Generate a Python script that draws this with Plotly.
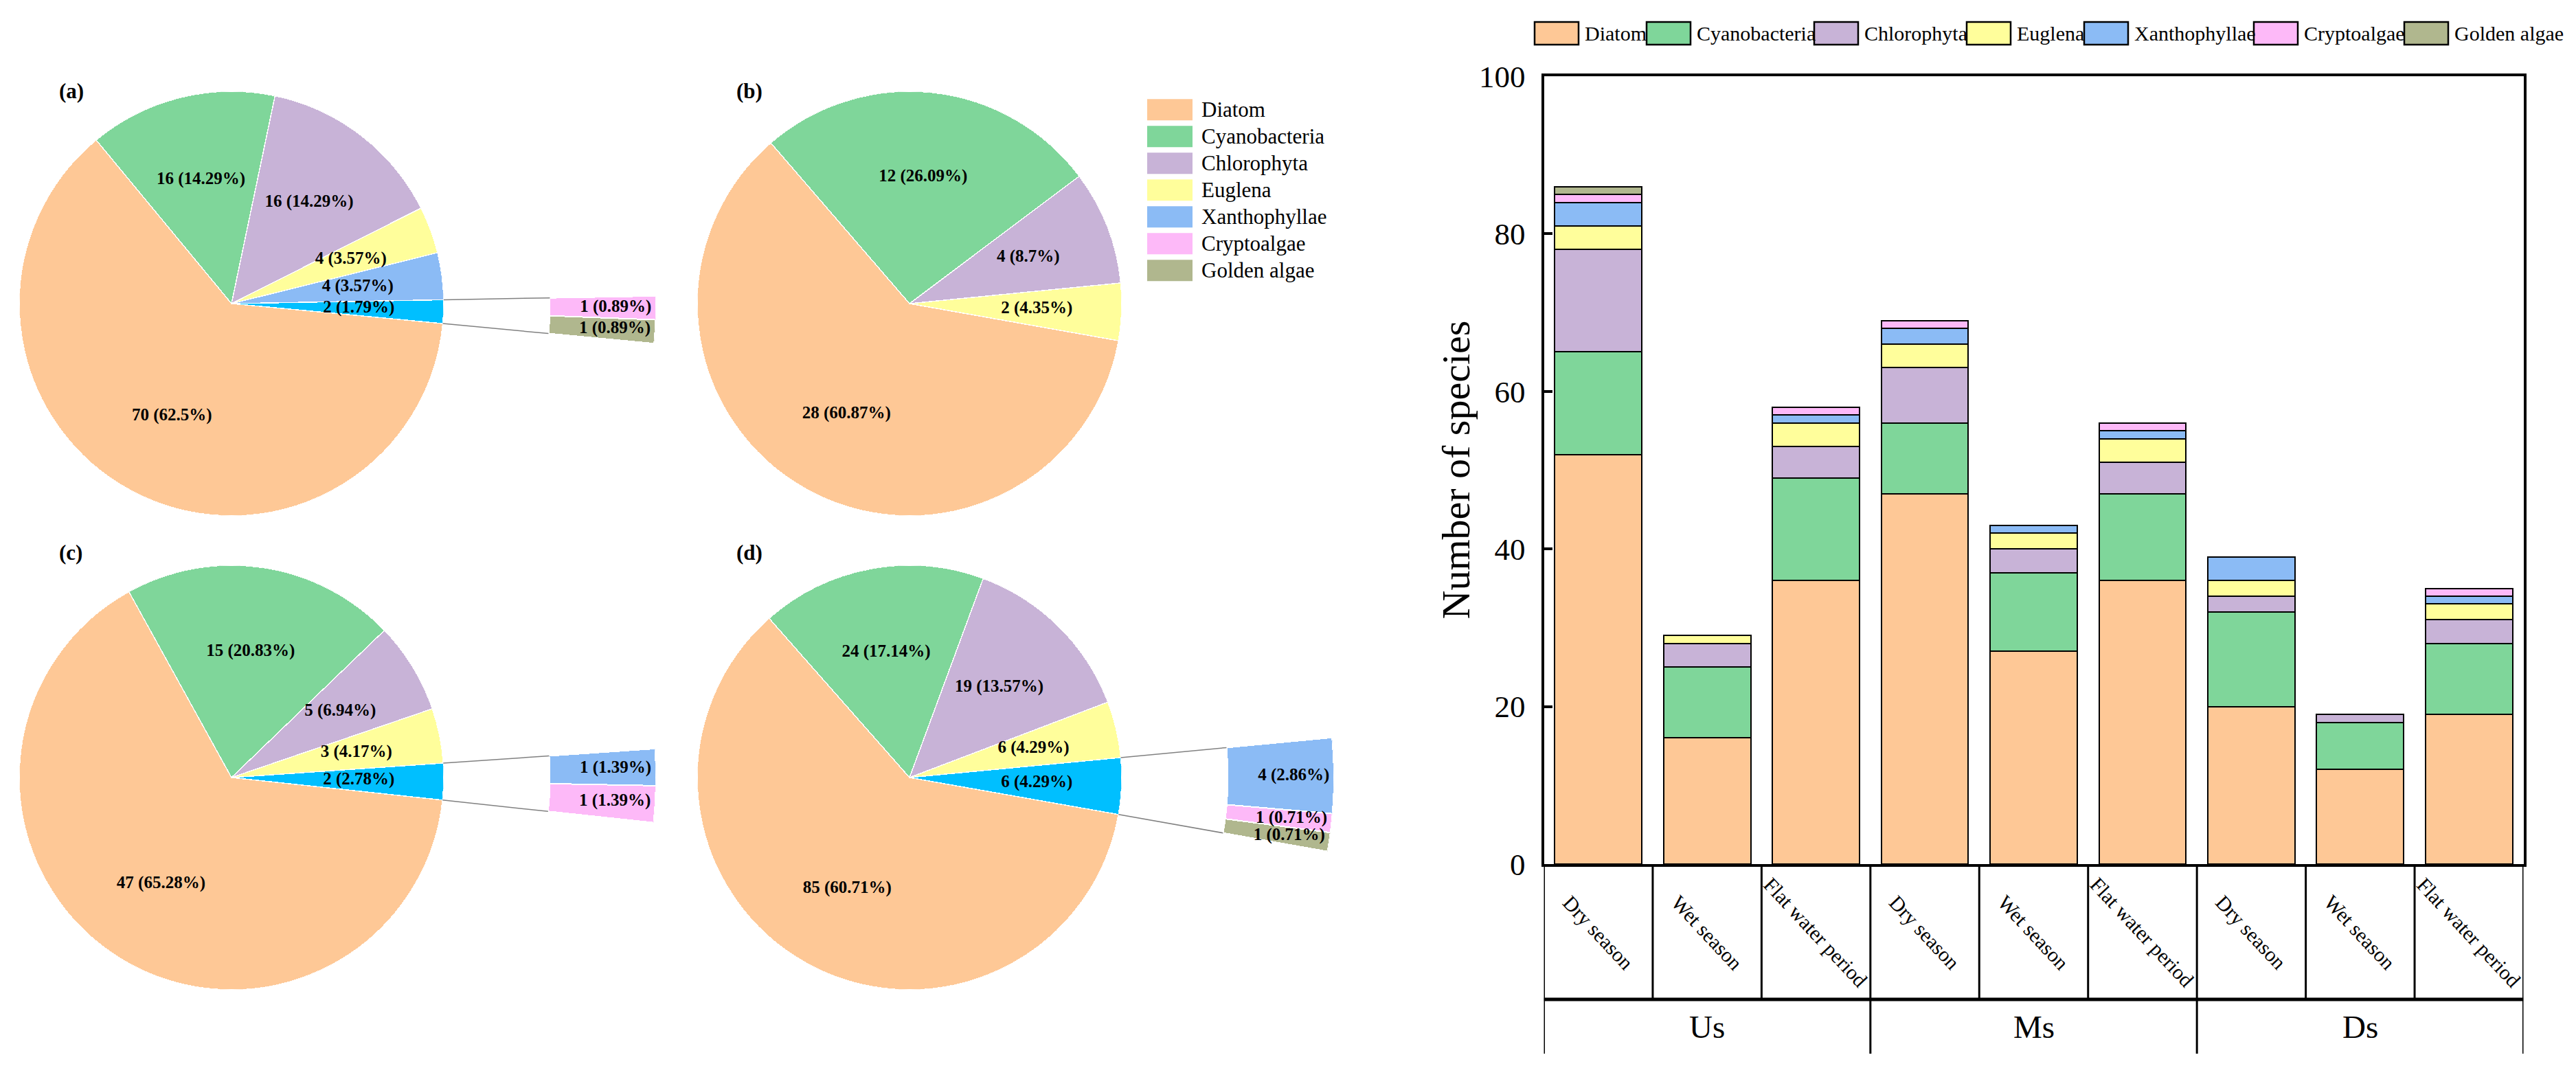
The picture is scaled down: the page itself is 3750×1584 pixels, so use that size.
import numpy as np
import plotly.graph_objects as go

# ---------------- data ----------------
categories = ["Diatom", "Cyanobacteria", "Chlorophyta", "Euglena",
              "Xanthophyllae", "Cryptoalgae", "Golden algae"]

pie_a = [70, 16, 16, 4, 4, 1, 1]
pie_b = [28, 12, 4, 2, 0, 0, 0]
pie_c = [47, 15, 5, 3, 1, 1, 0]
pie_d = [85, 24, 19, 6, 4, 1, 1]
pie_names = ["(a)", "(b)", "(c)", "(d)"]

sites = ["Us", "Ms", "Ds"]
seasons = ["Dry season", "Wet season", "Flat water period"]

diatom        = [52, 16, 36, 47, 27, 36, 20, 12, 19]
cyanobacteria = [13,  9, 13,  9, 10, 11, 12,  6,  9]
chlorophyta   = [13,  3,  4,  7,  3,  4,  2,  1,  3]
euglena       = [3,   1,  3,  3,  2,  3,  2,  0,  2]
xanthophyllae = [3,   0,  1,  2,  1,  1,  3,  0,  1]
cryptoalgae   = [1,   0,  1,  1,  0,  1,  0,  0,  1]
golden_algae  = [1,   0,  0,  0,  0,  0,  0,  0,  0]

y_ticks = [0, 20, 40, 60, 80, 100]
y_title = "Number of species"
other_threshold_pct = 3.0

# ---------------- styles / layout ----------------
colors = ["#FEC896", "#7FD69A", "#C8B3D7", "#FFFE9B", "#8BBBF5", "#FDB9F8", "#B0B78E"]
other_color = "#00BFFF"
W, H = 3750, 1584
FONT = "Liberation Serif"
R = 309
pie_layout = [
    dict(cx=337, cy=442, start=129.6, lx=84, ly=113),
    dict(cx=1324, cy=442, start=130.8, lx=1070, ly=113),
    dict(cx=337, cy=1132, start=118.9, lx=84, ly=804),
    dict(cx=1324, cy=1132, start=131.4, lx=1070, ly=804),
]


def px(x):
    return x / W


def py(y):
    return 1 - y / H


def pct_text(v, total):
    return f"{v} ({round(100 * v / total, 2):g}%)"


fig = go.Figure()
polars = {}
annotations = []
shapes = []
pcount = 0

pie_data = [pie_a, pie_b, pie_c, pie_d]
for vals, name, pl in zip(pie_data, pie_names, pie_layout):
    total = sum(vals)
    main_val, main_col, sub = [], [], []
    for i, (cat, v, col) in enumerate(zip(categories, vals, colors)):
        if v == 0:
            continue
        if i > 0 and 100 * v / total < other_threshold_pct:
            sub.append((cat, v, col))
        else:
            main_val.append(v)
            main_col.append(col)
    if sub:
        main_val.append(sum(s[1] for s in sub))
        main_col.append(other_color)
    widths = np.array([360.0 * v / total for v in main_val])
    cum = np.concatenate([[0.0], np.cumsum(widths)[:-1]])
    mids = cum + widths / 2
    rot = pl["start"] + 360.0 * vals[0] / total
    rot = ((rot + 180) % 360) - 180
    cx, cy = pl["cx"], pl["cy"]
    angular = dict(rotation=rot, direction="clockwise", visible=False,
                   thetaunit="degrees", showgrid=False)

    pcount += 1
    pname = "polar" if pcount == 1 else f"polar{pcount}"
    fig.add_trace(go.Barpolar(
        r=[1] * len(main_val), base=0, theta=mids, width=widths,
        marker=dict(color=main_col, line=dict(color="white", width=1.5)),
        subplot=pname, showlegend=False, hoverinfo="skip"))
    fig.add_trace(go.Scatterpolar(
        r=[0.6] * len(main_val), theta=mids, mode="text",
        text=[pct_text(v, total) for v in main_val],
        textfont=dict(family=FONT, size=25, color="black", weight="bold"),
        subplot=pname, showlegend=False, hoverinfo="skip", cliponaxis=False))
    polars[pname] = dict(
        domain=dict(x=[px(cx - R), px(cx + R)], y=[py(cy + R), py(cy - R)]),
        radialaxis=dict(range=[0, 1], visible=False, showgrid=False),
        angularaxis=angular, bgcolor="rgba(0,0,0,0)")

    if sub:
        pcount += 1
        pname2 = f"polar{pcount}"
        o_start, o_w = cum[-1], widths[-1]
        sw = np.array([360.0 * s[1] / total for s in sub])
        scum = o_start + np.concatenate([[0.0], np.cumsum(sw)[:-1]])
        smid = scum + sw / 2
        fig.add_trace(go.Scatterpolar(
            r=[1, 1.5, None, 1, 1.5],
            theta=[o_start, o_start, None, o_start + o_w, o_start + o_w],
            mode="lines", line=dict(color="#808080", width=1.5),
            subplot=pname2, showlegend=False, hoverinfo="skip"))
        fig.add_trace(go.Barpolar(
            r=[0.5] * len(sub), base=1.5, theta=smid, width=sw,
            marker=dict(color=[s[2] for s in sub], line=dict(color="white", width=2)),
            subplot=pname2, showlegend=False, hoverinfo="skip"))
        fig.add_trace(go.Scatterpolar(
            r=[1.81] * len(sub), theta=smid, mode="text",
            text=[pct_text(s[1], total) for s in sub],
            textfont=dict(family=FONT, size=25, color="black", weight="bold"),
            subplot=pname2, showlegend=False, hoverinfo="skip", cliponaxis=False))
        polars[pname2] = dict(
            domain=dict(x=[px(cx), px(cx + 2 * R)], y=[py(cy + R), py(cy - R)]),
            sector=[-30, 30],
            radialaxis=dict(range=[0, 2], visible=False, showgrid=False),
            angularaxis=angular, bgcolor="rgba(0,0,0,0)")

    annotations.append(dict(text=name, x=px(pl["lx"]), y=py(pl["ly"]), xref="paper",
                            yref="paper", showarrow=False,
                            font=dict(family=FONT, size=31, color="black", weight="bold")))

# ---- pie legend (middle) ----
for i, (cat, col) in enumerate(zip(categories, colors)):
    yc = 159.8 + 39.0 * i
    shapes.append(dict(type="rect", xref="paper", yref="paper",
                       x0=px(1670), x1=px(1736), y0=py(yc + 15.5), y1=py(yc - 15.5),
                       fillcolor=col, line=dict(width=0)))
    annotations.append(dict(text=cat, x=px(1747), y=py(yc), xref="paper", yref="paper",
                            xanchor="left", yanchor="middle", showarrow=False,
                            font=dict(family=FONT, size=31, color="black")))

# ---------------- stacked bar chart ----------------
bar_series = [diatom, cyanobacteria, chlorophyta, euglena,
              xanthophyllae, cryptoalgae, golden_algae]
n_bars = len(sites) * len(seasons)
xs = list(range(n_bars))
for cat, col, vals in zip(categories, colors, bar_series):
    fig.add_trace(go.Bar(x=xs, y=vals, name=cat, showlegend=False,
                         marker=dict(color=col, line=dict(color="black", width=2)),
                         xaxis="x", yaxis="y", hoverinfo="skip"))

x0p, x1p = 2247.5, 3673.5
y_top, y_zero = 111, 1258
row1_bottom, row2_bottom = 1455, 1534

# bar legend (top)
bar_leg_x = [2234, 2397, 2641, 2863, 3034, 3281, 3500]
for cat, col, lx in zip(categories, colors, bar_leg_x):
    shapes.append(dict(type="rect", xref="paper", yref="paper",
                       x0=px(lx), x1=px(lx + 64), y0=py(65), y1=py(32),
                       fillcolor=col, line=dict(color="black", width=2.5)))
    annotations.append(dict(text=cat, x=px(lx + 71), y=py(49), xref="paper", yref="paper",
                            xanchor="left", yanchor="middle", showarrow=False,
                            font=dict(family=FONT, size=30, color="black")))

# category table under the bars
for i in range(n_bars + 1):
    shapes.append(dict(type="line", xref="x", yref="paper", x0=i - 0.5, x1=i - 0.5,
                       y0=py(y_zero), y1=py(row1_bottom), line=dict(color="black", width=3)))
for g in range(len(sites) + 1):
    xg = g * len(seasons) - 0.5
    shapes.append(dict(type="line", xref="x", yref="paper", x0=xg, x1=xg,
                       y0=py(row1_bottom), y1=py(row2_bottom), line=dict(color="black", width=3)))
shapes.append(dict(type="line", xref="x", yref="paper", x0=-0.5, x1=n_bars - 0.5,
                   y0=py(row1_bottom), y1=py(row1_bottom), line=dict(color="black", width=5)))

for si, site in enumerate(sites):
    for ki, season in enumerate(seasons):
        annotations.append(dict(text=season, x=si * len(seasons) + ki, y=py(1357),
                                xref="x", yref="paper", textangle=47, showarrow=False,
                                xanchor="center", yanchor="middle",
                                font=dict(family=FONT, size=30, color="black")))
    annotations.append(dict(text=site, x=si * len(seasons) + (len(seasons) - 1) / 2,
                            y=py(1495), xref="x", yref="paper", showarrow=False,
                            xanchor="center", yanchor="middle",
                            font=dict(family=FONT, size=47, color="black")))

annotations.append(dict(text=y_title, x=px(2119), y=py((y_top + y_zero) / 2),
                        xref="paper", yref="paper", textangle=-90, showarrow=False,
                        xanchor="center", yanchor="middle",
                        font=dict(family=FONT, size=58, color="black")))

fig.update_layout(
    width=W, height=H, margin=dict(l=0, r=0, t=0, b=0), autosize=False,
    paper_bgcolor="white", plot_bgcolor="white", template="none",
    barmode="stack", bargap=0.2, showlegend=False,
    xaxis=dict(domain=[px(x0p), px(x1p)], range=[-0.5, n_bars - 0.5],
               showticklabels=False, ticks="", showgrid=False, zeroline=False,
               showline=True, linewidth=4, linecolor="black", mirror=True),
    yaxis=dict(domain=[py(y_zero), py(y_top)], range=[0, 100], tickvals=y_ticks,
               ticks="inside", ticklen=12, tickwidth=4, tickcolor="black",
               ticklabelstandoff=14,
               showgrid=False, zeroline=False, showline=True, linewidth=4,
               linecolor="black", mirror=True,
               tickfont=dict(family=FONT, size=45, color="black")),
    annotations=annotations, shapes=shapes,
    **polars,
)

fig.write_html("out.html", config={"displayModeBar": False},
               post_script="document.body.style.margin='0';")
